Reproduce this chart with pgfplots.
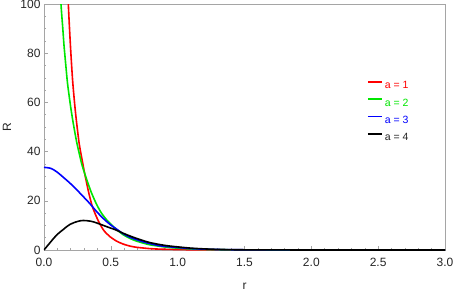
\documentclass[border=0pt]{standalone}
\usepackage{fontspec}
\setmainfont{Liberation Sans}
\usepackage{pgfplots}
\usepackage{pgfplotstable}
\pgfplotsset{compat=1.18}
\definecolor{framegray}{RGB}{165,165,165}
\definecolor{pgreen}{RGB}{0,230,0}

\pgfplotstableread{
r v
0.170 116
0.182 100
0.190 91
0.200 81
0.214 69
0.230 59
0.244 51.8
0.264 43
0.289 35.5
0.302 31.7
0.320 27
0.335 23.2
0.361 17.8
0.390 13.8
0.414 11.0
0.444 8.2
0.470 6.6
0.494 5.4
0.540 3.7
0.593 2.4
0.643 1.6
0.693 1.1
0.793 0.55
0.868 0.35
0.942 0.25
1.090 0.1
1.300 0.03
1.500 0.01
2.000 0
3.000 0
}\redt

\pgfplotstableread{
r v
0.115 113
0.127 100
0.140 90.5
0.150 83
0.165 74
0.177 67.3
0.200 58
0.219 51.5
0.244 44
0.269 38
0.282 35
0.302 31.5
0.330 27
0.357 23
0.394 18.5
0.431 14.9
0.470 12.2
0.506 10.2
0.550 8.0
0.593 6.2
0.643 4.7
0.693 3.6
0.743 2.8
0.793 2.1
0.868 1.5
0.942 1.0
1.090 0.45
1.200 0.25
1.300 0.13
1.500 0.04
2.000 0.005
3.000 0
}\greent

\pgfplotstableread{
r v
0.000 33.6
0.050 33.2
0.095 31.8
0.150 29.3
0.194 27.2
0.250 24.2
0.294 21.7
0.344 18.8
0.394 15.6
0.444 12.8
0.494 10.4
0.556 8.0
0.593 6.6
0.643 5.2
0.693 4.2
0.743 3.3
0.793 2.6
0.868 1.7
0.942 1.3
1.090 0.6
1.200 0.35
1.300 0.2
1.500 0.08
2.000 0.01
3.000 0
}\bluet

\pgfplotstableread{
r v
0.000 0
0.050 3.3
0.095 6.1
0.150 8.6
0.194 10.4
0.250 11.6
0.294 12.0
0.350 11.7
0.394 11.0
0.444 10.0
0.494 9.0
0.531 8.3
0.593 6.8
0.643 5.7
0.693 4.7
0.743 3.8
0.793 3.0
0.868 2.2
0.942 1.6
1.090 0.8
1.200 0.45
1.300 0.25
1.500 0.08
2.000 0.01
3.000 0
}\blackt

\begin{document}
\begin{tikzpicture}
\path[use as bounding box] (-44pt,-40pt) rectangle (411pt,250pt);
\begin{axis}[
  scale only axis, width=401pt, height=246pt,
  at={(0,0)}, anchor=south west,
  xmin=0, xmax=3, ymin=0, ymax=100,
  axis line style={framegray, line width=0.8pt},
  xtick={0,0.5,...,3}, ytick={0,20,...,100},
  minor x tick num=4, minor y tick num=3,
  xtick pos=bottom, ytick pos=left,
  tick align=inside, major tick length=4pt, minor tick length=2.5pt,
  every tick/.style={framegray, line width=0.6pt},
  xticklabel style={/pgf/number format/fixed, /pgf/number format/fixed zerofill, /pgf/number format/precision=1, yshift=-5pt},
  /pgf/number format/assume math mode=true,
  tick label style={font=\fontsize{12}{14}\selectfont, text=black!85},
  xlabel={r}, ylabel={R},
  xlabel style={at={(rel axis cs:0.5,0)}, anchor=base, yshift=-39pt, font=\fontsize{12}{14}\selectfont, text=black!85},
  ylabel style={at={(rel axis cs:0,0.5)}, anchor=center, yshift=37pt, font=\fontsize{12}{14}\selectfont, text=black!85},
  legend cell align=left,
  legend image code/.code={\draw[#1, line width=1.8pt, line cap=butt] (0pt,3.5pt) -- (14pt,3.5pt);},
  legend style={at={(0.805,0.564)}, anchor=west, draw=none, fill=none,
    font=\fontsize{10.5}{12}\selectfont, row sep=6pt, inner sep=0pt,
    nodes={inner sep=2pt, text height=7.3pt, text depth=0pt}},
]
\addplot[red, line width=1.6pt, smooth] table[x=r,y=v] {\redt};
\addlegendentry{\textcolor{red}{a = 1}}
\addplot[pgreen, line width=1.6pt, smooth] table[x=r,y=v] {\greent};
\addlegendentry{\textcolor{pgreen}{a = 2}}
\addplot[blue, line width=1.6pt, smooth] table[x=r,y=v] {\bluet};
\addlegendentry{\textcolor{blue}{a = 3}}
\addplot[black, line width=1.6pt, smooth] table[x=r,y=v] {\blackt};
\addlegendentry{\textcolor{black!85}{a = 4}}
\end{axis}
\end{tikzpicture}
\end{document}
